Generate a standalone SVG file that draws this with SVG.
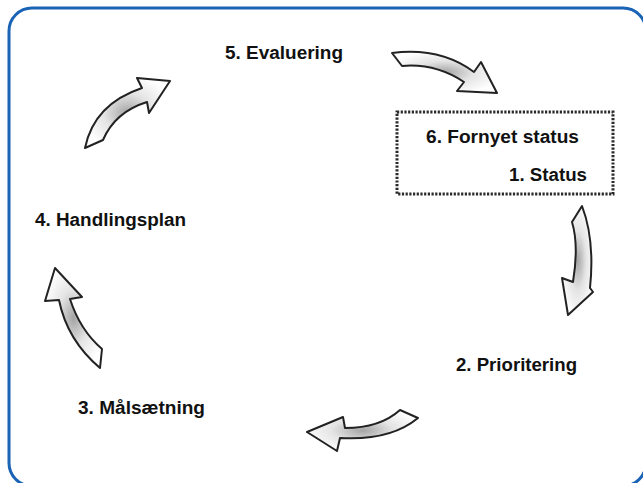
<svg xmlns="http://www.w3.org/2000/svg" width="643" height="483" viewBox="0 0 643 483">
<style>
.lbl{font-family:"Liberation Sans",Arial,sans-serif;font-weight:bold;font-size:17.5px;fill:#111}
.arr{fill:url(#g);stroke:#222;stroke-width:2;stroke-linejoin:round}
</style>
<defs>
<radialGradient id="g" cx="0.5" cy="0.5" r="0.55">
<stop offset="0" stop-color="#a4a4a4"/>
<stop offset="0.5" stop-color="#e4e4e4"/>
<stop offset="1" stop-color="#ffffff"/>
</radialGradient>
</defs>
<rect x="0" y="0" width="643" height="483" fill="#fff"/>
<rect id="frame" x="9" y="8" width="637" height="478" rx="23" fill="none" stroke="#1a63b5" stroke-width="3"/>
<g id="connectors">
<path class="arr" d="M392,53 Q440,47 474,72 L481,62 L497,93 L457,91 L464,82 Q435,63 402,66 Z"/>
<path class="arr" d="M582,206 Q595,240 590,288 L593,292 L568,315 L562,278 L573,282 Q579,245 572,222 Z"/>
<path class="arr" d="M400,410 Q380,428 345,428 L343,417 L307,432 L337,451 L340,438 Q390,441 418,418 Z"/>
<path class="arr" d="M55,268 L82,297 L70,299 Q80,330 102,349 L100,368 Q67,340 59,300 L45,301 Z"/>
<path class="arr" d="M85,148 Q94,104 142,88 L137,78 L170,81 L149,113 L147,102 Q115,112 103,140 Z"/>
</g>
<g id="n-status">
<rect x="397" y="112" width="216" height="82" fill="none" stroke="#2a2a2a" stroke-width="3" stroke-dasharray="2.2 1.5"/>
<text class="lbl" x="426" y="143" textLength="153" lengthAdjust="spacingAndGlyphs">6. Fornyet status</text>
<text class="lbl" x="509" y="181" textLength="78" lengthAdjust="spacingAndGlyphs">1. Status</text>
</g>
<g id="n-evaluering"><text class="lbl" x="225" y="59" textLength="118" lengthAdjust="spacingAndGlyphs">5. Evaluering</text></g>
<g id="n-prioritering"><text class="lbl" x="456" y="371" textLength="121" lengthAdjust="spacingAndGlyphs">2. Prioritering</text></g>
<g id="n-maalsaetning"><text class="lbl" x="78" y="414" textLength="127" lengthAdjust="spacingAndGlyphs">3. Målsætning</text></g>
<g id="n-handlingsplan"><text class="lbl" x="35" y="226" textLength="151" lengthAdjust="spacingAndGlyphs">4. Handlingsplan</text></g>
</svg>
